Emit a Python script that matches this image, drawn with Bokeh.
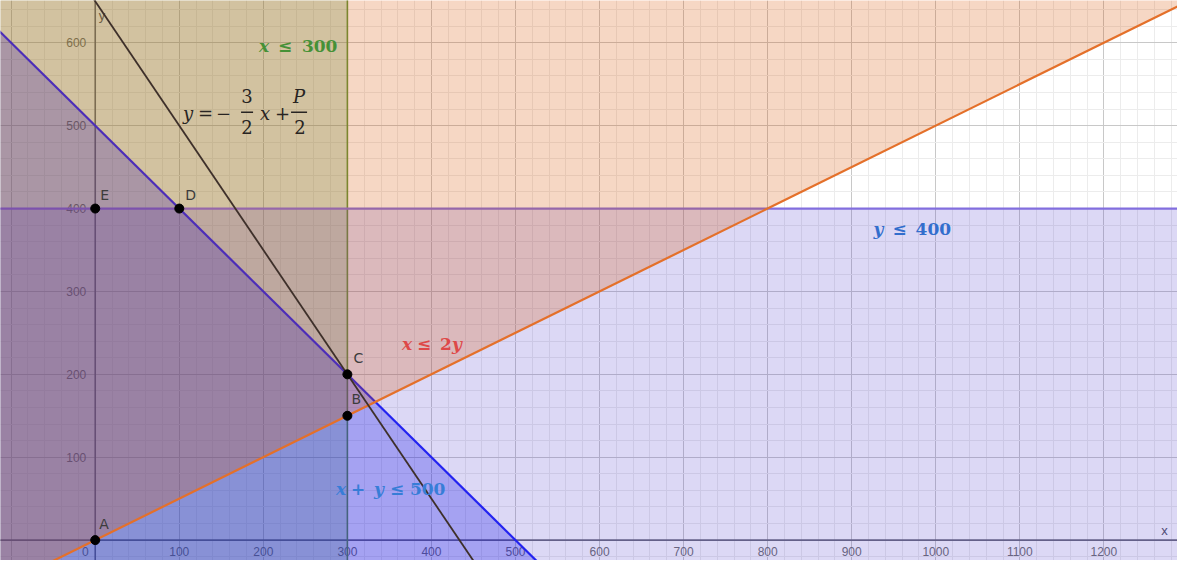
from bokeh.plotting import figure
from bokeh.models import Range1d, SingleIntervalTicker
from bokeh.core.properties import value
from bokeh.embed import file_html
from bokeh.resources import INLINE

# ---- data: constraints, objective, corner points, ticks ----
x_limit = 300        # x <= 300
y_limit = 400        # y <= 400
sum_limit = 500      # x + y <= 500
ratio = 2            # x <= 2y
P_value = 1300       # objective: y = -3/2 x + P/2
obj_slope = -1.5

point_names = ["A", "B", "C", "D", "E"]
point_x = [0, 300, 300, 100, 0]
point_y = [0, 150, 200, 400, 400]

x_ticks = [100, 200, 300, 400, 500, 600, 700, 800, 900, 1000, 1100, 1200]
x_tick_labels = [str(v) for v in x_ticks]
y_ticks = [100, 200, 300, 400, 500, 600]
y_tick_labels = [str(v) for v in y_ticks]

# ---- figure ----
W, H = 1177, 560
X0, X1 = -112.7, 1287.6
Y0, Y1 = -24.6, 651.0
SX = W / (X1 - X0)
SY = H / (Y1 - Y0)

p = figure(width=W, height=H, x_range=Range1d(X0, X1), y_range=Range1d(Y0, Y1),
           output_backend="svg", toolbar_location=None,
           x_axis_location=None, y_axis_location=None,
           min_border=0, background_fill_color="white", border_fill_color="white")
p.outline_line_color = None

for g in (p.xgrid, p.ygrid):
    g.ticker = SingleIntervalTicker(interval=100, num_minor_ticks=5)
    g.grid_line_color = "#c8c8c8"
    g.grid_line_width = 1
    g.minor_grid_line_color = "#ececec"
    g.minor_grid_line_width = 1

BIG = 5000
TICK_COL = "#6e6e6e"

# axes (drawn beneath the shaded regions, like the original)
p.line([-BIG, BIG], [0, 0], line_color="#6a6a78", line_width=1.6)
p.line([0, 0], [-BIG, BIG], line_color="#6a6a78", line_width=1.6)
p.text(x=x_ticks, y=[0] * len(x_ticks), text=x_tick_labels, y_offset=11,
       text_align="center", text_baseline="middle", text_color=TICK_COL,
       text_font=value("Liberation Sans"), text_font_size="12px")
p.text(x=[0], y=[0], text=["0"], x_offset=-10, y_offset=11,
       text_align="center", text_baseline="middle", text_color=TICK_COL,
       text_font=value("Liberation Sans"), text_font_size="12px")
p.text(x=[0] * len(y_ticks), y=y_ticks, text=y_tick_labels, x_offset=-9,
       text_align="right", text_baseline="middle", text_color=TICK_COL,
       text_font=value("Liberation Sans"), text_font_size="12px")
p.text(x=[1272], y=[11.7], text=["x"], text_align="center", text_baseline="middle",
       text_color="#505060", text_font=value("Liberation Sans"), text_font_size="13px")
p.text(x=[8], y=[633], text=["y"], text_align="center", text_baseline="middle",
       text_color="#505060", text_font=value("Liberation Sans"), text_font_size="13px")

# ---- shaded half-planes, in drawing order ----
# x <= 300
p.patch([-BIG, x_limit, x_limit, -BIG], [-BIG, -BIG, BIG, BIG],
        fill_color=(67, 147, 67), fill_alpha=0.25, line_color=None)
p.line([x_limit, x_limit], [-BIG, BIG], line_color=(95, 150, 60), line_width=1.6)
# y <= 400
p.patch([-BIG, BIG, BIG, -BIG], [-BIG, -BIG, y_limit, y_limit],
        fill_color=(80, 60, 205), fill_alpha=0.2, line_color=None)
p.line([-BIG, BIG], [y_limit, y_limit], line_color=(130, 110, 222), line_width=2.2)
# x + y <= 500
p.patch([-BIG, sum_limit + BIG, -BIG], [-BIG, -BIG, sum_limit + BIG],
        fill_color=(0, 0, 235), fill_alpha=0.25, line_color=None)
p.line([-BIG, sum_limit + BIG], [sum_limit + BIG, -BIG], line_color=(35, 35, 240), line_width=2.2)
# x <= 2y
p.patch([-BIG, BIG, BIG, -BIG], [-BIG / ratio, BIG / ratio, 3 * BIG, 3 * BIG],
        fill_color=(217, 84, 0), fill_alpha=0.23, line_color=None)
p.line([-BIG, BIG], [-BIG / ratio, BIG / ratio], line_color=(228, 112, 42), line_width=2.2)

# objective line
obj_x = [-300, 800]
obj_y = [obj_slope * v + P_value / 2 for v in obj_x]
p.line(obj_x, obj_y, line_color=(62, 48, 42), line_width=1.8)

# corner points
p.scatter(point_x, point_y, size=9, fill_color="black", line_color="black")
label_off = {"A": (4, -16), "B": (4, -17), "C": (6, -16), "D": (6, -14), "E": (5, -14)}
for n, px, py in zip(point_names, point_x, point_y):
    dx, dy = label_off[n]
    p.text(x=[px], y=[py], text=[n], x_offset=dx, y_offset=dy, text_align="left",
           text_baseline="middle", text_color="#3c3c3c",
           text_font=value("DejaVu Sans"), text_font_size="14px")


# ---- math labels, built from pieces ----
def piece(ax, ay, s, dx, dy, color, size, style="bold", align="left"):
    p.text(x=[ax], y=[ay], text=[s], x_offset=dx, y_offset=dy, text_align=align,
           text_baseline="middle", text_color=color, text_font=value("DejaVu Serif"),
           text_font_size=size, text_font_style=style)


def bar(ax, ay, dx0, dx1, dy, color):
    p.segment(x0=[ax + dx0 / SX], y0=[ay - dy / SY], x1=[ax + dx1 / SX], y1=[ay - dy / SY],
              line_color=color, line_width=1.3)


FS = "17px"
# x <= 300
c = (70, 145, 55)
ax, ay = 194.8, 595.9
piece(ax, ay, "x", 0, 0, c, FS, "bold italic")
piece(ax, ay, "≤", 19, 0, c, FS)
piece(ax, ay, "300", 43, 0, c, FS)

# x <= 2y
c = (222, 72, 72)
ax, ay = 365.0, 237.0
piece(ax, ay, "x", 0, 0, c, FS, "bold italic")
piece(ax, ay, "≤", 15, 0, c, FS)
piece(ax, ay, "2", 38, 0, c, FS)
piece(ax, ay, "y", 50, 0, c, FS, "bold italic")

# x + y <= 500
c = (55, 125, 215)
ax, ay = 286.4, 62.2
piece(ax, ay, "x", 0, 0, c, FS, "bold italic")
piece(ax, ay, "+", 15, 0, c, FS)
piece(ax, ay, "y", 38, 0, c, FS, "bold italic")
piece(ax, ay, "≤", 54, 0, c, FS)
piece(ax, ay, "500", 74, 0, c, FS)

# y <= 400
c = (50, 110, 205)
ax, ay = 926.0, 375.4
piece(ax, ay, "y", 0, 0, c, FS, "bold italic")
piece(ax, ay, "≤", 19, 0, c, FS)
piece(ax, ay, "400", 42, 0, c, FS)

# y = -3/2 x + P/2
c = (40, 36, 34)
F2 = "18px"
ax, ay = 104.5, 515.0
piece(ax, ay, "y", 0, 0, c, F2, "italic")
piece(ax, ay, "=", 15, 0, c, F2, "normal")
piece(ax, ay, "−", 33, 0, c, F2, "normal")
piece(ax, ay, "3", 64, -17, c, F2, "normal", "center")
bar(ax, ay, 58, 70, -1, c)
piece(ax, ay, "2", 64, 14, c, F2, "normal", "center")
piece(ax, ay, "x", 77, 0, c, F2, "italic")
piece(ax, ay, "+", 92, 0, c, F2, "normal")
piece(ax, ay, "P", 116, -17, c, F2, "italic", "center")
bar(ax, ay, 108, 124, -1, c)
piece(ax, ay, "2", 117, 14, c, F2, "normal", "center")

open("out.html", "w").write(file_html(p, INLINE))
